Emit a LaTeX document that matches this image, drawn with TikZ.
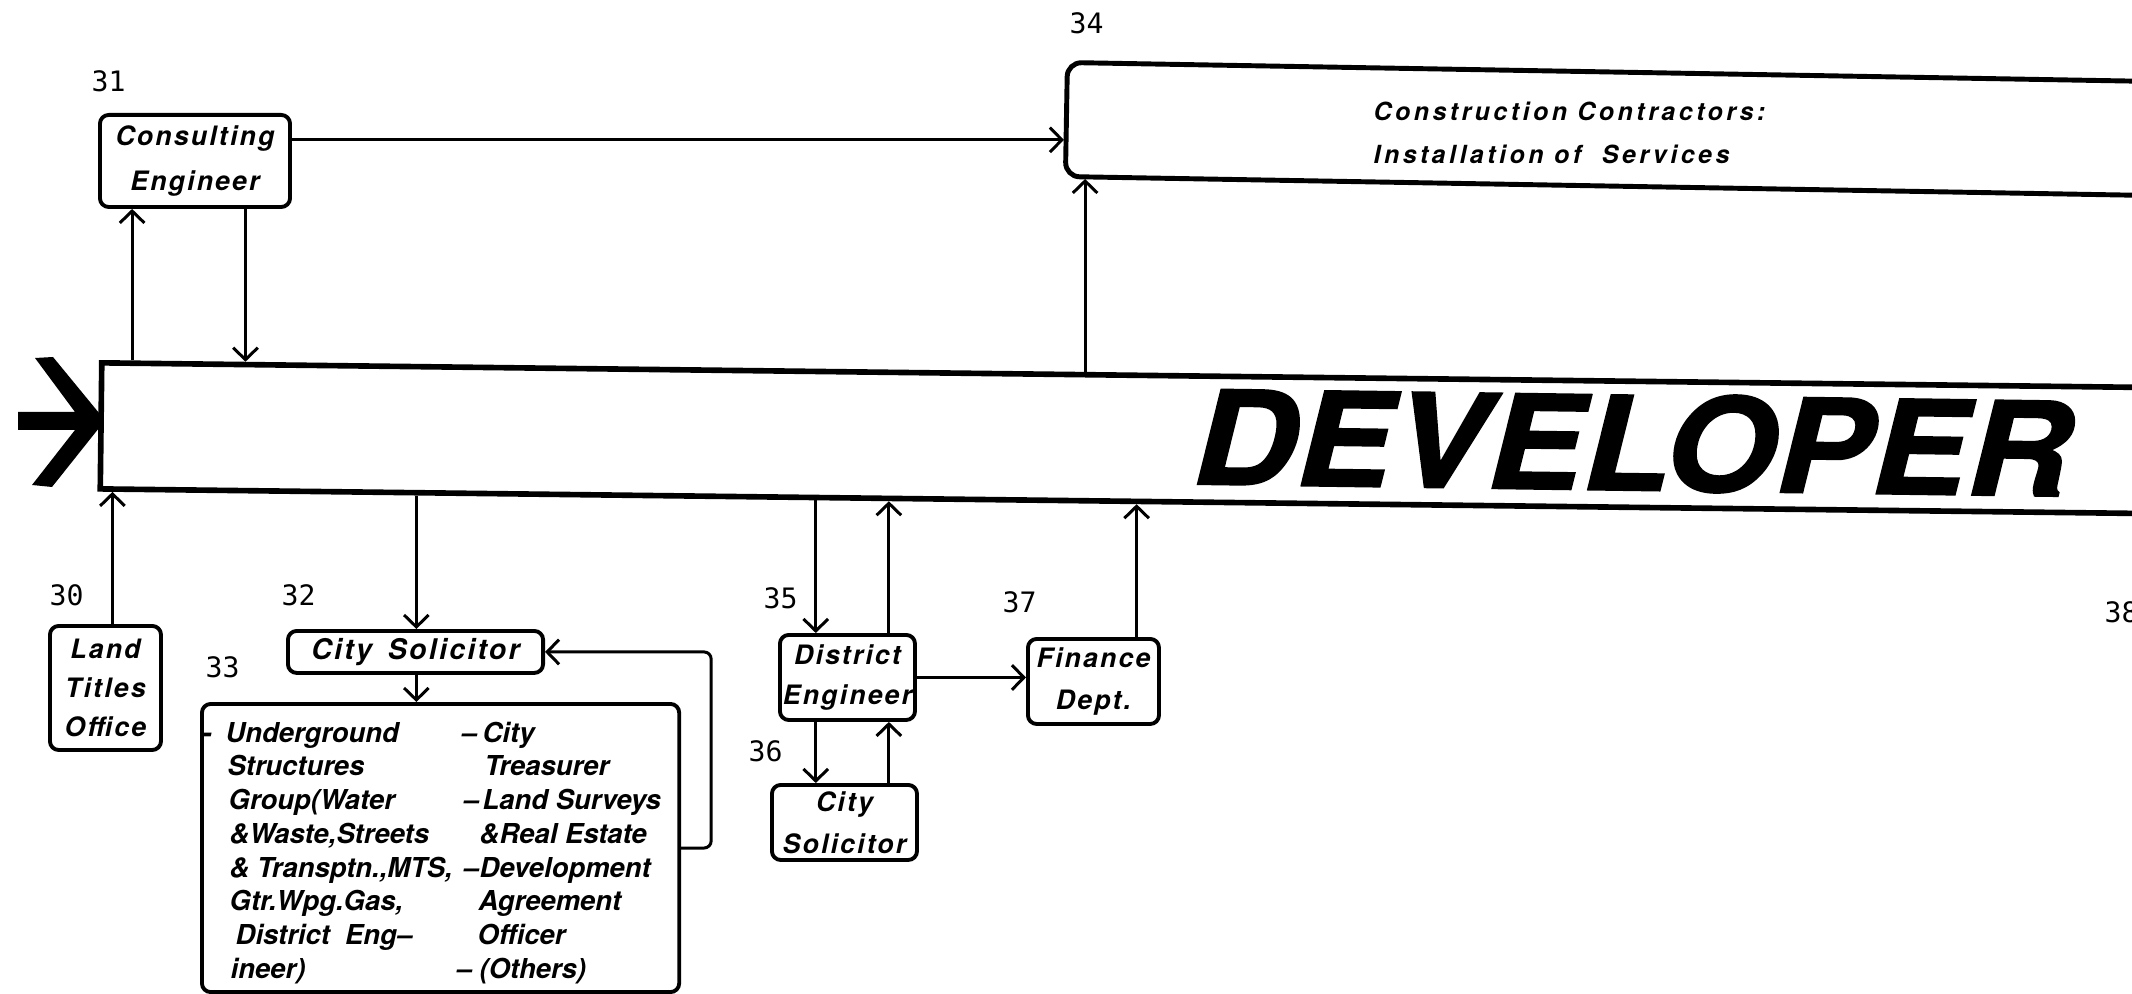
\documentclass[tikz,border=0pt]{standalone}
\usepackage{fontspec}
\setmainfont{TeX Gyre Heros}
\newfontfamily\labf[LetterSpace=8]{TeX Gyre Heros}
\newfontfamily\txtf{TeX Gyre Heros}
\newfontfamily\ccf[LetterSpace=14]{TeX Gyre Heros}
\newfontfamily\numf{DejaVu Sans Mono}
\newfontfamily\devf[FakeBold=1.5]{TeX Gyre Heros}
\usetikzlibrary{arrows.meta,calc}
\newdimen\pxu \pxu=0.2845pt
\begin{document}
\begin{tikzpicture}[x=0.01cm,y=-0.01cm,
  box/.style={draw, line width=1.1pt, rounded corners=2.5pt, inner sep=0pt, anchor=north west},
  lab/.style={align=center, font=\labf\bfseries\itshape\fontsize{7.6}{#1}\selectfont},
  num/.style={font=\numf\fontsize{8}{9}\selectfont, anchor=base west, inner sep=0pt},
  arr/.style={line width=0.85pt, -{Straight Barb[length=3.4pt,width=7pt]}},
  coltext/.style={anchor=base west, inner sep=0pt, font=\txtf\bfseries\itshape\fontsize{7.8}{9.6}\selectfont}]
\fill[white] (0,0) rectangle (2132,994);
\useasboundingbox (0,0) rectangle (2132,994);
\clip (0,0) rectangle (2132,994);

% main boxes
\node[draw, line width=1.6pt, anchor=north west, rotate=-0.69, minimum width=21cm, minimum height=1.26cm, inner sep=0pt] (dev) at (99,360) {};
\node[draw, line width=1.4pt, rounded corners=4pt, anchor=north west, rotate=-1.0, minimum width=12cm, minimum height=1.14cm, inner sep=0pt] (cc) at (1065,60) {};

% chevron
\fill (35,358) -- (53,357) -- (99,413) -- (99,428) -- (52,487) -- (32,485) -- (75,430) -- (18,430) -- (18,412) -- (75,412) -- cycle;

% texts in big boxes
\node[font=\devf\bfseries\itshape\fontsize{37}{38}\selectfont, anchor=base west, inner sep=0pt, rotate=-0.8] (devt) at (1192,484) {\scalebox{1.10}[1]{DEVELOPER}};
\node[font=\ccf\bfseries\itshape\fontsize{7.1}{12}\selectfont, anchor=base west, inner sep=0pt] (cct) at (1373,121) {\begin{tabular}[t]{@{}l@{}}Construction Contractors:\\Installation of\ \ Services\end{tabular}};

% small boxes
\node[box, minimum width=1.90cm, minimum height=0.92cm, lab=12.8] (ce) at (98,113) {Consulting\\Engineer};
\node[box, minimum width=1.11cm, minimum height=1.24cm, lab=11.1] (lto) at (48,624) {Land\\Titles\\Office};
\node[box, minimum width=2.55cm, minimum height=0.42cm, align=center, font=\labf\bfseries\itshape\fontsize{8.1}{10}\selectfont] (cs32) at (286,629) {City\hspace{16\pxu}Solicitor};
\node[box, minimum width=4.77cm, minimum height=2.88cm] (b33) at (200,702) {};
\node[box, minimum width=1.35cm, minimum height=0.85cm, lab=11.4] (de) at (778,633) {District\\Engineer};
\node[box, minimum width=1.31cm, minimum height=0.85cm, lab=12] (fin) at (1026,637) {Finance\\Dept.};
\node[box, minimum width=1.45cm, minimum height=0.75cm, lab=12] (cs36) at (770,783) {City\\Solicitor};

% box 33 columns
\node[coltext] (b33l) at (202,742) {\begin{tabular}[t]{@{}l@{}}
\makebox[23\pxu][l]{-}Underground\\
\hspace{25\pxu}Structures\\
\hspace{26\pxu}Group(Water\\
\hspace{27\pxu}\&Waste,Streets\\
\hspace{27\pxu}\& Transptn.,MTS,\\
\hspace{27\pxu}Gtr.Wpg.Gas,\\
\hspace{33\pxu}District\ \ Eng–\\
\hspace{28\pxu}ineer)
\end{tabular}};
\node[coltext] (b33r) at (456,742) {\begin{tabular}[t]{@{}l@{}}
\hspace{5\pxu}\makebox[21\pxu][l]{–}City\\
\hspace{28\pxu}Treasurer\\
\hspace{7\pxu}\makebox[19\pxu][l]{–}Land Surveys\\
\hspace{23\pxu}\&Real Estate\\
\hspace{7\pxu}\makebox[16\pxu][l]{–}Development\\
\hspace{22\pxu}Agreement\\
\hspace{21\pxu}Officer\\
\makebox[23\pxu][l]{–}(Others)
\end{tabular}};

% numbers
\node[num] (n30) at (49,605) {30};
\node[num] (n31) at (91,92) {31};
\node[num] (n32) at (281,606) {32};
\node[num] (n33) at (205,677) {33};
\node[num] (n34) at (1069,34) {34};
\node[num] (n35) at (763,608) {35};
\node[num] (n36) at (748,761) {36};
\node[num] (n37) at (1002,613) {37};
\node[num] (n38) at (2104,623) {38};

% points on developer box
\coordinate (dt1) at ($(dev.north west)!0.01571!(dev.north east)$);
\coordinate (dt2) at ($(dev.north west)!0.06952!(dev.north east)$);
\coordinate (dt3) at ($(dev.north west)!0.4681!(dev.north east)$);
\coordinate (db1) at ($(dev.south west)!0.00714!(dev.south east)$);
\coordinate (db2) at ($(dev.south west)!0.1514!(dev.south east)$);
\coordinate (db3) at ($(dev.south west)!0.3410!(dev.south east)$);
\coordinate (db4) at ($(dev.south west)!0.3757!(dev.south east)$);
\coordinate (db5) at ($(dev.south west)!0.4933!(dev.south east)$);
\coordinate (cep) at ($(ce.north east)!0.28!(ce.south east)$);

% connectors
\draw[arr] (dt1) -- (dt1 |- ce.south);
\draw[arr] (dt2 |- ce.south) -- (dt2);
\draw[arr] (cep) -- (cep -| cc.west);
\draw[arr] (dt3) -- (dt3 |- cc.south west);
\draw[arr] (db1 |- lto.north) -- (db1);
\draw[arr] (db2) -- (db2 |- cs32.north);
\draw[arr] (db2 |- cs32.south) -- (db2 |- b33.north);
\draw[arr, rounded corners=2pt] (b33.east) -- ++(30,0) |- (cs32.east);
\draw[arr] (db3) -- (db3 |- de.north);
\draw[arr] (db4 |- de.north) -- (db4);
\draw[arr] (de.east) -- (de.east -| fin.west);
\draw[arr] (db5 |- fin.north) -- (db5);
\draw[arr] (db3 |- de.south) -- (db3 |- cs36.north);
\draw[arr] (db4 |- cs36.north) -- (db4 |- de.south);
\end{tikzpicture}
\end{document}
